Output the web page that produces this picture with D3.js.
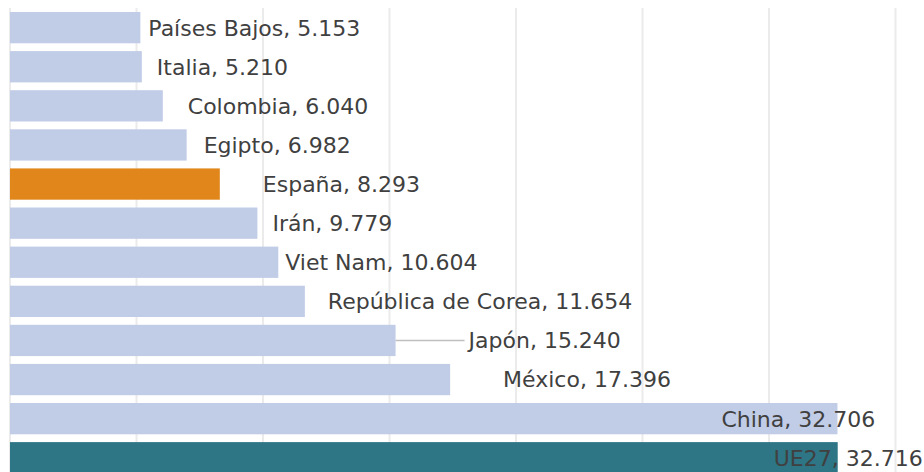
<!DOCTYPE html>
<html>
<head>
<meta charset="utf-8">
<script src="https://cdn.jsdelivr.net/npm/d3@7"></script>
<style>
  body { margin: 0; background: #fff; }
  text { font-family: "DejaVu Sans", sans-serif; fill: #404040; }
</style>
</head>
<body>
<svg id="chart" width="924" height="472"></svg>
<script>
'use strict'

const countries = ["Países Bajos","Italia","Colombia","Egipto","España","Irán","Viet Nam","República de Corea","Japón","México","China","UE27"]
const values = [5153,5210,6040,6982,8293,9779,10604,11654,15240,17396,32706,32716]
const ticks = [0,5000,10000,15000,20000,25000,30000,35000]

// label placement (pixels from bar end, Excel style manual labels)
const labelDx = [8,15,25,17,43,15,7,23,73,53,-116,-64]
const leaderLines = ["Japón"]

const colors = {bar:"#c1cce7", spain:"#e0861a", eu:"#2e7585", grid:"#ebebeb", leader:"#bfbfbf"}

const width = 924, height = 472
const svg = d3.select("#chart")

const x = d3.scaleLinear().domain([0,35000]).range([10,895.5])
const y = d3.scaleBand().domain(countries).range([8.1,477.3]).paddingInner(0.2).paddingOuter(0.1)

const es = d3.formatLocale({decimal:",", thousands:".", grouping:[3], currency:["","€"]})
const fmt = es.format(",d")

const data = countries.map((c,i)=>({name:c, value:values[i], dx:labelDx[i]}))

// grid
svg.append("g").attr("class","grid")
  .selectAll("line").data(ticks).join("line")
  .attr("x1",d=>x(d)).attr("x2",d=>x(d))
  .attr("y1",8).attr("y2",height)
  .attr("stroke",colors.grid).attr("stroke-width",2)

// bars
svg.append("g").attr("class","bars")
  .selectAll("rect").data(data).join("rect")
  .attr("x",x(0))
  .attr("y",d=>y(d.name))
  .attr("width",d=>x(d.value)-x(0))
  .attr("height",y.bandwidth())
  .attr("fill",d=>d.name==="España" ? colors.spain : d.name==="UE27" ? colors.eu : colors.bar)

// leader lines
svg.append("g").attr("class","leaders")
  .selectAll("line").data(data.filter(d=>leaderLines.includes(d.name))).join("line")
  .attr("x1",d=>x(d.value)).attr("x2",d=>x(d.value)+d.dx-4)
  .attr("y1",d=>y(d.name)+y.bandwidth()/2).attr("y2",d=>y(d.name)+y.bandwidth()/2)
  .attr("stroke",colors.leader).attr("stroke-width",1.5)

// labels
svg.append("g").attr("class","labels")
  .selectAll("text").data(data).join("text")
  .attr("x",d=>x(d.value)+d.dx)
  .attr("y",d=>y(d.name)+y.bandwidth()/2)
  .attr("dy","0.36em")
  .attr("font-size",22)
  .text(d=>`${d.name}, ${fmt(d.value)}`)
</script>
</body>
</html>
